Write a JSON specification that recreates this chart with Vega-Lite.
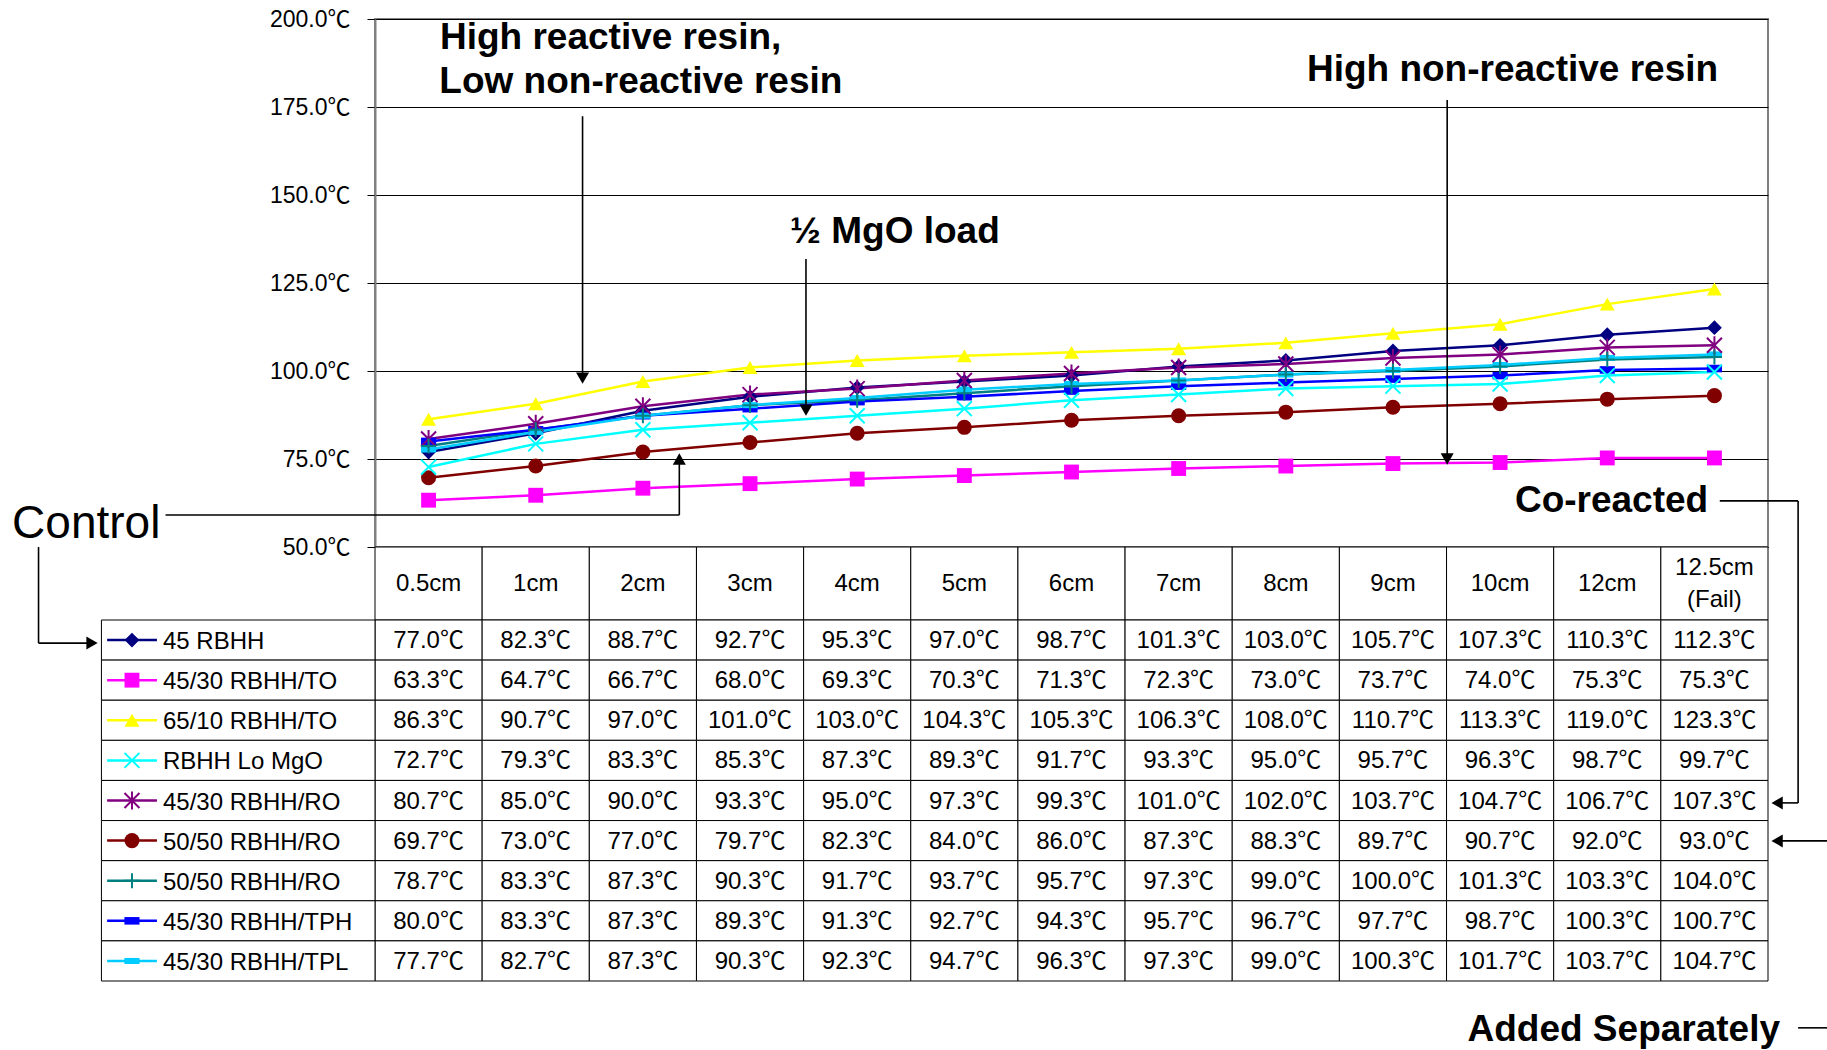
{
  "$schema": "https://vega.github.io/schema/vega-lite/v6.json",
  "width": 1393,
  "height": 528,
  "autosize": {"type": "none"},
  "padding": {"left": 375, "top": 19, "right": 59, "bottom": 503},
  "background": "white",
  "config": {
    "font": "Liberation Sans, Noto Sans CJK JP, sans-serif",
    "view": {"stroke": "#808080", "strokeWidth": 2}
  },
  "datasets": {
    "series": [
      {"n": 1, "name": "45 RBHH"},
      {"n": 2, "name": "45/30 RBHH/TO"},
      {"n": 3, "name": "65/10 RBHH/TO"},
      {"n": 4, "name": "RBHH Lo MgO"},
      {"n": 5, "name": "45/30 RBHH/RO"},
      {"n": 6, "name": "50/50 RBHH/RO"},
      {"n": 7, "name": "50/50 RBHH/RO"},
      {"n": 8, "name": "45/30 RBHH/TPH"},
      {"n": 9, "name": "45/30 RBHH/TPL"}
    ],
    "temps": [
      {"n":1,"d":"0.5cm","t":77.0},{"n":1,"d":"1cm","t":82.3},{"n":1,"d":"2cm","t":88.7},{"n":1,"d":"3cm","t":92.7},{"n":1,"d":"4cm","t":95.3},{"n":1,"d":"5cm","t":97.0},{"n":1,"d":"6cm","t":98.7},{"n":1,"d":"7cm","t":101.3},{"n":1,"d":"8cm","t":103.0},{"n":1,"d":"9cm","t":105.7},{"n":1,"d":"10cm","t":107.3},{"n":1,"d":"12cm","t":110.3},{"n":1,"d":"12.5cm (Fail)","t":112.3},
      {"n":2,"d":"0.5cm","t":63.3},{"n":2,"d":"1cm","t":64.7},{"n":2,"d":"2cm","t":66.7},{"n":2,"d":"3cm","t":68.0},{"n":2,"d":"4cm","t":69.3},{"n":2,"d":"5cm","t":70.3},{"n":2,"d":"6cm","t":71.3},{"n":2,"d":"7cm","t":72.3},{"n":2,"d":"8cm","t":73.0},{"n":2,"d":"9cm","t":73.7},{"n":2,"d":"10cm","t":74.0},{"n":2,"d":"12cm","t":75.3},{"n":2,"d":"12.5cm (Fail)","t":75.3},
      {"n":3,"d":"0.5cm","t":86.3},{"n":3,"d":"1cm","t":90.7},{"n":3,"d":"2cm","t":97.0},{"n":3,"d":"3cm","t":101.0},{"n":3,"d":"4cm","t":103.0},{"n":3,"d":"5cm","t":104.3},{"n":3,"d":"6cm","t":105.3},{"n":3,"d":"7cm","t":106.3},{"n":3,"d":"8cm","t":108.0},{"n":3,"d":"9cm","t":110.7},{"n":3,"d":"10cm","t":113.3},{"n":3,"d":"12cm","t":119.0},{"n":3,"d":"12.5cm (Fail)","t":123.3},
      {"n":4,"d":"0.5cm","t":72.7},{"n":4,"d":"1cm","t":79.3},{"n":4,"d":"2cm","t":83.3},{"n":4,"d":"3cm","t":85.3},{"n":4,"d":"4cm","t":87.3},{"n":4,"d":"5cm","t":89.3},{"n":4,"d":"6cm","t":91.7},{"n":4,"d":"7cm","t":93.3},{"n":4,"d":"8cm","t":95.0},{"n":4,"d":"9cm","t":95.7},{"n":4,"d":"10cm","t":96.3},{"n":4,"d":"12cm","t":98.7},{"n":4,"d":"12.5cm (Fail)","t":99.7},
      {"n":5,"d":"0.5cm","t":80.7},{"n":5,"d":"1cm","t":85.0},{"n":5,"d":"2cm","t":90.0},{"n":5,"d":"3cm","t":93.3},{"n":5,"d":"4cm","t":95.0},{"n":5,"d":"5cm","t":97.3},{"n":5,"d":"6cm","t":99.3},{"n":5,"d":"7cm","t":101.0},{"n":5,"d":"8cm","t":102.0},{"n":5,"d":"9cm","t":103.7},{"n":5,"d":"10cm","t":104.7},{"n":5,"d":"12cm","t":106.7},{"n":5,"d":"12.5cm (Fail)","t":107.3},
      {"n":6,"d":"0.5cm","t":69.7},{"n":6,"d":"1cm","t":73.0},{"n":6,"d":"2cm","t":77.0},{"n":6,"d":"3cm","t":79.7},{"n":6,"d":"4cm","t":82.3},{"n":6,"d":"5cm","t":84.0},{"n":6,"d":"6cm","t":86.0},{"n":6,"d":"7cm","t":87.3},{"n":6,"d":"8cm","t":88.3},{"n":6,"d":"9cm","t":89.7},{"n":6,"d":"10cm","t":90.7},{"n":6,"d":"12cm","t":92.0},{"n":6,"d":"12.5cm (Fail)","t":93.0},
      {"n":7,"d":"0.5cm","t":78.7},{"n":7,"d":"1cm","t":83.3},{"n":7,"d":"2cm","t":87.3},{"n":7,"d":"3cm","t":90.3},{"n":7,"d":"4cm","t":91.7},{"n":7,"d":"5cm","t":93.7},{"n":7,"d":"6cm","t":95.7},{"n":7,"d":"7cm","t":97.3},{"n":7,"d":"8cm","t":99.0},{"n":7,"d":"9cm","t":100.0},{"n":7,"d":"10cm","t":101.3},{"n":7,"d":"12cm","t":103.3},{"n":7,"d":"12.5cm (Fail)","t":104.0},
      {"n":8,"d":"0.5cm","t":80.0},{"n":8,"d":"1cm","t":83.3},{"n":8,"d":"2cm","t":87.3},{"n":8,"d":"3cm","t":89.3},{"n":8,"d":"4cm","t":91.3},{"n":8,"d":"5cm","t":92.7},{"n":8,"d":"6cm","t":94.3},{"n":8,"d":"7cm","t":95.7},{"n":8,"d":"8cm","t":96.7},{"n":8,"d":"9cm","t":97.7},{"n":8,"d":"10cm","t":98.7},{"n":8,"d":"12cm","t":100.3},{"n":8,"d":"12.5cm (Fail)","t":100.7},
      {"n":9,"d":"0.5cm","t":77.7},{"n":9,"d":"1cm","t":82.7},{"n":9,"d":"2cm","t":87.3},{"n":9,"d":"3cm","t":90.3},{"n":9,"d":"4cm","t":92.3},{"n":9,"d":"5cm","t":94.7},{"n":9,"d":"6cm","t":96.3},{"n":9,"d":"7cm","t":97.3},{"n":9,"d":"8cm","t":99.0},{"n":9,"d":"9cm","t":100.3},{"n":9,"d":"10cm","t":101.7},{"n":9,"d":"12cm","t":103.7},{"n":9,"d":"12.5cm (Fail)","t":104.7}
    ],
    "notes": [
      {"label": "High reactive resin,", "x": 2.199, "y": 194.6},
      {"label": "Low non-reactive resin", "x": 2.481, "y": 182.1},
      {"label": "½ MgO load", "x": 4.852, "y": 139.5},
      {"label": "High non-reactive resin", "x": 10.616, "y": 185.5},
      {"label": "Co-reacted", "x": 11.54, "y": 63.1},
      {"label": "Added Separately", "x": 11.654, "y": -87.2}
    ],
    "control": [
      {"label": "Control", "x": -2.695, "y": 56.5}
    ],
    "segs": [
      {"x": 1.937, "y": 172.4, "x2": 1.937, "y2": 98.0},
      {"x": 4.022, "y": 131.8, "x2": 4.022, "y2": 89.0},
      {"x": 10.006, "y": 177.0, "x2": 10.006, "y2": 75.2},
      {"x": 12.55, "y": 63.1, "x2": 13.281, "y2": 63.1},
      {"x": 13.281, "y": 63.1, "x2": 13.281, "y2": -22.7},
      {"x": 13.281, "y": -22.7, "x2": 13.1, "y2": -22.7},
      {"x": 13.281, "y": -86.6, "x2": 13.56, "y2": -86.6},
      {"x": 13.56, "y": -33.5, "x2": 13.1, "y2": -33.5},
      {"x": -1.955, "y": 59.1, "x2": 2.84, "y2": 59.1},
      {"x": 2.84, "y": 59.1, "x2": 2.84, "y2": 75.0},
      {"x": -3.14, "y": 50.0, "x2": -3.14, "y2": 22.7},
      {"x": -3.14, "y": 22.7, "x2": -2.64, "y2": 22.7}
    ],
    "heads": [
      {"x": 1.937, "y": 98.0, "dir": "down"},
      {"x": 4.022, "y": 88.9, "dir": "down"},
      {"x": 10.006, "y": 75.0, "dir": "down"},
      {"x": 13.085, "y": -22.7, "dir": "left"},
      {"x": 13.085, "y": -33.5, "dir": "left"},
      {"x": 2.84, "y": 75.0, "dir": "up"},
      {"x": -2.641, "y": 22.7, "dir": "right"}
    ]
  },
  "resolve": {"scale": {"x": "independent", "y": "independent", "color": "independent", "shape": "independent", "size": "independent"}},
  "layer": [
    {
      "data": {"name": "temps"},
      "mark": {"type": "line", "strokeWidth": 2.5},
      "encoding": {
        "x": {"field": "d", "type": "ordinal", "scale": {"type": "point", "domain": ["0.5cm","1cm","2cm","3cm","4cm","5cm","6cm","7cm","8cm","9cm","10cm","12cm","12.5cm (Fail)"], "padding": 0.5}, "axis": null},
        "y": {"field": "t", "type": "quantitative", "scale": {"domain": [50, 200], "nice": false, "zero": false},
          "axis": {"values": [50, 75, 100, 125, 150, 175, 200], "labelExpr": "format(datum.value, '.1f') + '℃'", "title": null, "grid": true, "gridColor": "#000000", "gridWidth": 1, "domainColor": "#808080", "domainWidth": 2, "tickColor": "#000000", "tickSize": 8, "tickWidth": 1, "labelFontSize": 23, "labelColor": "#000000", "labelPadding": 17}},
        "color": {"field": "n", "type": "nominal", "scale": {"domain": [1,2,3,4,5,6,7,8,9], "range": ["#000080","#FF00FF","#FFFF00","#00FFFF","#800080","#800000","#008080","#0000FF","#00CCFF"]}, "legend": null},
        "order": {"value": null}
      }
    },
    {
      "data": {"name": "temps"},
      "transform": [{"filter": {"field": "n", "oneOf": [1, 2, 3, 6, 8, 9]}}],
      "mark": {"type": "point", "filled": true, "opacity": 1},
      "encoding": {
        "x": {"field": "d", "type": "ordinal", "scale": {"type": "point", "domain": ["0.5cm","1cm","2cm","3cm","4cm","5cm","6cm","7cm","8cm","9cm","10cm","12cm","12.5cm (Fail)"], "padding": 0.5}, "axis": null},
        "y": {"field": "t", "type": "quantitative", "scale": {"domain": [50, 200], "nice": false, "zero": false}, "axis": null},
        "color": {"field": "n", "type": "nominal", "scale": {"domain": [1,2,3,4,5,6,7,8,9], "range": ["#000080","#FF00FF","#FFFF00","#00FFFF","#800080","#800000","#008080","#0000FF","#00CCFF"]}, "legend": null},
        "shape": {"field": "n", "type": "nominal", "scale": {"domain": [1,2,3,4,5,6,7,8,9], "range": ["diamond","square","triangle-up","M-1,-1L1,1M-1,1L1,-1","M-1,-1L1,1M-1,1L1,-1M0,-1.2L0,1.2","circle","M0,-1L0,1M-1,0L1,0","M-1,-0.5L1,-0.5L1,0.5L-1,0.5Z","M-1,-0.4L1,-0.4L1,0.4L-1,0.4Z"]}, "legend": null},
        "size": {"field": "n", "type": "ordinal", "scale": {"domain": [1,2,3,4,5,6,7,8,9], "range": [220,230,260,220,260,230,260,100,160]}, "legend": null}
      }
    },
    {
      "data": {"name": "temps"},
      "transform": [{"filter": {"field": "n", "oneOf": [4, 5, 7]}}],
      "mark": {"type": "point", "filled": false, "strokeWidth": 2, "opacity": 1},
      "encoding": {
        "x": {"field": "d", "type": "ordinal", "scale": {"type": "point", "domain": ["0.5cm","1cm","2cm","3cm","4cm","5cm","6cm","7cm","8cm","9cm","10cm","12cm","12.5cm (Fail)"], "padding": 0.5}, "axis": null},
        "y": {"field": "t", "type": "quantitative", "scale": {"domain": [50, 200], "nice": false, "zero": false}, "axis": null},
        "color": {"field": "n", "type": "nominal", "scale": {"domain": [1,2,3,4,5,6,7,8,9], "range": ["#000080","#FF00FF","#FFFF00","#00FFFF","#800080","#800000","#008080","#0000FF","#00CCFF"]}, "legend": null},
        "shape": {"field": "n", "type": "nominal", "scale": {"domain": [1,2,3,4,5,6,7,8,9], "range": ["diamond","square","triangle-up","M-1,-1L1,1M-1,1L1,-1","M-1,-1L1,1M-1,1L1,-1M0,-1.2L0,1.2","circle","M0,-1L0,1M-1,0L1,0","M-1,-0.5L1,-0.5L1,0.5L-1,0.5Z","M-1,-0.4L1,-0.4L1,0.4L-1,0.4Z"]}, "legend": null},
        "size": {"field": "n", "type": "ordinal", "scale": {"domain": [1,2,3,4,5,6,7,8,9], "range": [220,230,260,220,260,230,260,100,160]}, "legend": null}
      }
    },
    {
      "data": {"name": "temps"},
      "transform": [{"filter": "datum.n === 1"}],
      "mark": {"type": "rect", "fill": "white", "stroke": "#000000", "strokeWidth": 1},
      "encoding": {
        "x": {"field": "d", "type": "ordinal", "scale": {"type": "band", "domain": ["0.5cm","1cm","2cm","3cm","4cm","5cm","6cm","7cm","8cm","9cm","10cm","12cm","12.5cm (Fail)"], "paddingInner": 0, "paddingOuter": 0}, "axis": null},
        "y": {"datum": "hdr", "type": "nominal", "scale": {"type": "band", "domain": ["hdr"], "range": [528, 601], "paddingInner": 0, "paddingOuter": 0}, "axis": null}
      }
    },
    {
      "data": {"name": "temps"},
      "transform": [{"filter": "datum.n === 1 && datum.d !== '12.5cm (Fail)'"}],
      "mark": {"type": "text", "fontSize": 24, "align": "center", "baseline": "middle", "color": "#000000"},
      "encoding": {
        "x": {"field": "d", "type": "ordinal", "scale": {"type": "point", "domain": ["0.5cm","1cm","2cm","3cm","4cm","5cm","6cm","7cm","8cm","9cm","10cm","12cm","12.5cm (Fail)"], "padding": 0.5}, "axis": null},
        "y": {"datum": "hdr", "type": "nominal", "scale": {"type": "point", "domain": ["hdr"], "range": [528, 601], "padding": 0.5}, "axis": null},
        "text": {"field": "d"}
      }
    },
    {
      "data": {"name": "temps"},
      "transform": [{"filter": "datum.n === 1 && datum.d === '12.5cm (Fail)'"}],
      "mark": {"type": "text", "fontSize": 24, "lineBreak": " ", "lineHeight": 32, "align": "center", "baseline": "middle", "color": "#000000", "dy": -16},
      "encoding": {
        "x": {"field": "d", "type": "ordinal", "scale": {"type": "point", "domain": ["0.5cm","1cm","2cm","3cm","4cm","5cm","6cm","7cm","8cm","9cm","10cm","12cm","12.5cm (Fail)"], "padding": 0.5}, "axis": null},
        "y": {"datum": "hdr", "type": "nominal", "scale": {"type": "point", "domain": ["hdr"], "range": [528, 601], "padding": 0.5}, "axis": null},
        "text": {"field": "d"}
      }
    },
    {
      "data": {"name": "temps"},
      "mark": {"type": "rect", "fill": "white", "stroke": "#000000", "strokeWidth": 1},
      "encoding": {
        "x": {"field": "d", "type": "ordinal", "scale": {"type": "band", "domain": ["0.5cm","1cm","2cm","3cm","4cm","5cm","6cm","7cm","8cm","9cm","10cm","12cm","12.5cm (Fail)"], "paddingInner": 0, "paddingOuter": 0}, "axis": null},
        "y": {"field": "n", "type": "ordinal", "scale": {"type": "band", "domain": [1,2,3,4,5,6,7,8,9], "range": [601, 962], "paddingInner": 0, "paddingOuter": 0}, "axis": null}
      }
    },
    {
      "data": {"name": "temps"},
      "transform": [{"calculate": "format(datum.t, '.1f') + '℃'", "as": "lbl"}],
      "mark": {"type": "text", "fontSize": 24, "align": "center", "baseline": "middle", "color": "#000000", "dy": 1},
      "encoding": {
        "x": {"field": "d", "type": "ordinal", "scale": {"type": "point", "domain": ["0.5cm","1cm","2cm","3cm","4cm","5cm","6cm","7cm","8cm","9cm","10cm","12cm","12.5cm (Fail)"], "padding": 0.5}, "axis": null},
        "y": {"field": "n", "type": "ordinal", "scale": {"type": "point", "domain": [1,2,3,4,5,6,7,8,9], "range": [601, 962], "padding": 0.5}, "axis": null},
        "text": {"field": "lbl"}
      }
    },
    {
      "data": {"name": "series"},
      "mark": {"type": "rect", "fill": "white", "stroke": "#000000", "strokeWidth": 1},
      "encoding": {
        "x": {"datum": -2.553, "type": "quantitative", "scale": {"domain": [0, 13], "nice": false, "zero": false}, "axis": null},
        "x2": {"datum": 0},
        "y": {"field": "n", "type": "ordinal", "scale": {"type": "band", "domain": [1,2,3,4,5,6,7,8,9], "range": [601, 962], "paddingInner": 0, "paddingOuter": 0}, "axis": null}
      }
    },
    {
      "data": {"name": "series"},
      "mark": {"type": "rule", "strokeWidth": 2.5},
      "encoding": {
        "x": {"datum": -2.5, "type": "quantitative", "scale": {"domain": [0, 13], "nice": false, "zero": false}, "axis": null},
        "x2": {"datum": -2.035},
        "y": {"field": "n", "type": "ordinal", "scale": {"type": "point", "domain": [1,2,3,4,5,6,7,8,9], "range": [601, 962], "padding": 0.5}, "axis": null},
        "color": {"field": "n", "type": "nominal", "scale": {"domain": [1,2,3,4,5,6,7,8,9], "range": ["#000080","#FF00FF","#FFFF00","#00FFFF","#800080","#800000","#008080","#0000FF","#00CCFF"]}, "legend": null}
      }
    },
    {
      "data": {"name": "series"},
      "transform": [{"filter": {"field": "n", "oneOf": [1, 2, 3, 6, 8, 9]}}],
      "mark": {"type": "point", "filled": true, "opacity": 1},
      "encoding": {
        "x": {"datum": -2.268, "type": "quantitative", "scale": {"domain": [0, 13], "nice": false, "zero": false}, "axis": null},
        "y": {"field": "n", "type": "ordinal", "scale": {"type": "point", "domain": [1,2,3,4,5,6,7,8,9], "range": [601, 962], "padding": 0.5}, "axis": null},
        "color": {"field": "n", "type": "nominal", "scale": {"domain": [1,2,3,4,5,6,7,8,9], "range": ["#000080","#FF00FF","#FFFF00","#00FFFF","#800080","#800000","#008080","#0000FF","#00CCFF"]}, "legend": null},
        "shape": {"field": "n", "type": "nominal", "scale": {"domain": [1,2,3,4,5,6,7,8,9], "range": ["diamond","square","triangle-up","M-1,-1L1,1M-1,1L1,-1","M-1,-1L1,1M-1,1L1,-1M0,-1.2L0,1.2","circle","M0,-1L0,1M-1,0L1,0","M-1,-0.5L1,-0.5L1,0.5L-1,0.5Z","M-1,-0.4L1,-0.4L1,0.4L-1,0.4Z"]}, "legend": null},
        "size": {"field": "n", "type": "ordinal", "scale": {"domain": [1,2,3,4,5,6,7,8,9], "range": [220,230,260,220,260,230,260,100,160]}, "legend": null}
      }
    },
    {
      "data": {"name": "series"},
      "transform": [{"filter": {"field": "n", "oneOf": [4, 5, 7]}}],
      "mark": {"type": "point", "filled": false, "strokeWidth": 2, "opacity": 1},
      "encoding": {
        "x": {"datum": -2.268, "type": "quantitative", "scale": {"domain": [0, 13], "nice": false, "zero": false}, "axis": null},
        "y": {"field": "n", "type": "ordinal", "scale": {"type": "point", "domain": [1,2,3,4,5,6,7,8,9], "range": [601, 962], "padding": 0.5}, "axis": null},
        "color": {"field": "n", "type": "nominal", "scale": {"domain": [1,2,3,4,5,6,7,8,9], "range": ["#000080","#FF00FF","#FFFF00","#00FFFF","#800080","#800000","#008080","#0000FF","#00CCFF"]}, "legend": null},
        "shape": {"field": "n", "type": "nominal", "scale": {"domain": [1,2,3,4,5,6,7,8,9], "range": ["diamond","square","triangle-up","M-1,-1L1,1M-1,1L1,-1","M-1,-1L1,1M-1,1L1,-1M0,-1.2L0,1.2","circle","M0,-1L0,1M-1,0L1,0","M-1,-0.5L1,-0.5L1,0.5L-1,0.5Z","M-1,-0.4L1,-0.4L1,0.4L-1,0.4Z"]}, "legend": null},
        "size": {"field": "n", "type": "ordinal", "scale": {"domain": [1,2,3,4,5,6,7,8,9], "range": [220,230,260,220,260,230,260,100,160]}, "legend": null}
      }
    },
    {
      "data": {"name": "series"},
      "mark": {"type": "text", "fontSize": 24, "align": "left", "baseline": "middle", "color": "#000000", "dy": 2},
      "encoding": {
        "x": {"datum": -1.979, "type": "quantitative", "scale": {"domain": [0, 13], "nice": false, "zero": false}, "axis": null},
        "y": {"field": "n", "type": "ordinal", "scale": {"type": "point", "domain": [1,2,3,4,5,6,7,8,9], "range": [601, 962], "padding": 0.5}, "axis": null},
        "text": {"field": "name"}
      }
    },
    {
      "data": {"name": "segs"},
      "mark": {"type": "rule", "color": "#000000", "strokeWidth": 1.6},
      "encoding": {
        "x": {"field": "x", "type": "quantitative", "scale": {"domain": [0, 13], "nice": false, "zero": false}, "axis": null},
        "x2": {"field": "x2"},
        "y": {"field": "y", "type": "quantitative", "scale": {"domain": [50, 200], "nice": false, "zero": false}, "axis": null},
        "y2": {"field": "y2"}
      }
    },
    {
      "data": {"name": "heads"},
      "mark": {"type": "point", "filled": true, "color": "#000000", "opacity": 1, "size": 170},
      "encoding": {
        "x": {"field": "x", "type": "quantitative", "scale": {"domain": [0, 13], "nice": false, "zero": false}, "axis": null},
        "y": {"field": "y", "type": "quantitative", "scale": {"domain": [50, 200], "nice": false, "zero": false}, "axis": null},
        "shape": {"field": "dir", "type": "nominal", "scale": {"domain": ["up", "down", "left", "right"], "range": ["triangle-up", "triangle-down", "triangle-left", "triangle-right"]}, "legend": null}
      }
    },
    {
      "data": {"name": "notes"},
      "mark": {"type": "text", "fontSize": 37, "fontWeight": "bold", "align": "center", "baseline": "middle", "color": "#000000"},
      "encoding": {
        "x": {"field": "x", "type": "quantitative", "scale": {"domain": [0, 13], "nice": false, "zero": false}, "axis": null},
        "y": {"field": "y", "type": "quantitative", "scale": {"domain": [50, 200], "nice": false, "zero": false}, "axis": null},
        "text": {"field": "label"}
      }
    },
    {
      "data": {"name": "control"},
      "mark": {"type": "text", "fontSize": 46, "align": "center", "baseline": "middle", "color": "#000000"},
      "encoding": {
        "x": {"field": "x", "type": "quantitative", "scale": {"domain": [0, 13], "nice": false, "zero": false}, "axis": null},
        "y": {"field": "y", "type": "quantitative", "scale": {"domain": [50, 200], "nice": false, "zero": false}, "axis": null},
        "text": {"field": "label"}
      }
    }
  ]
}
